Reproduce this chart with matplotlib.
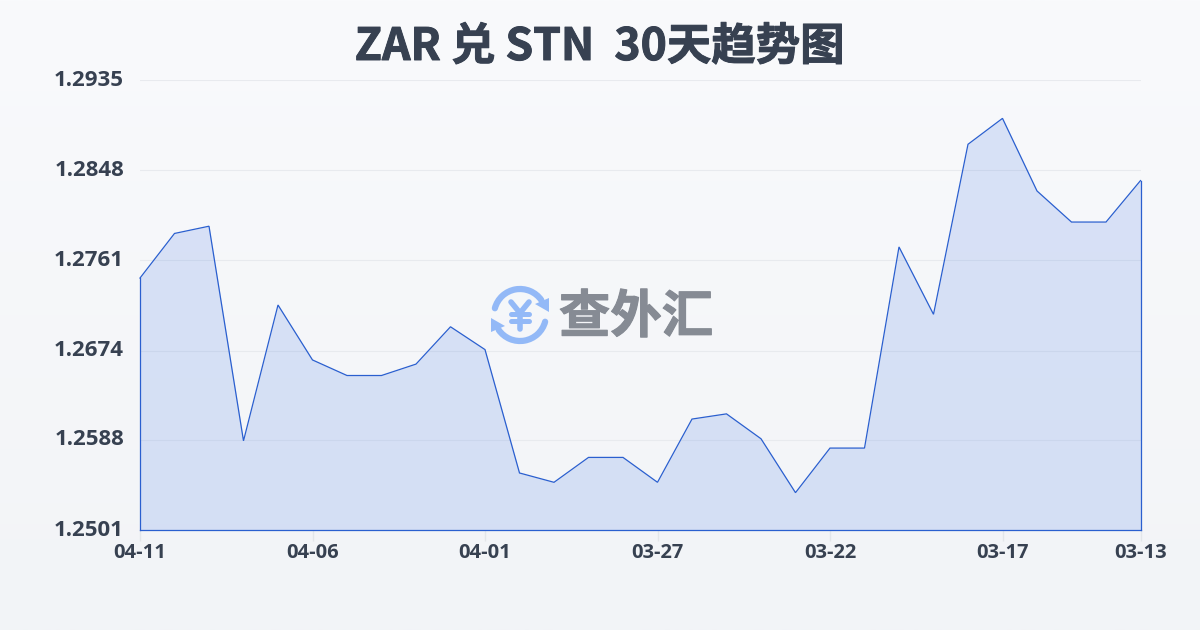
import matplotlib
matplotlib.use('Agg')
import numpy as np
import matplotlib.pyplot as plt
import matplotlib.patheffects as pe
from matplotlib.patches import Arc, Polygon

plt.rcParams['font.family'] = ['Noto Sans CJK SC', 'DejaVu Sans']

title = 'ZAR 兑 STN  30天趋势图'
dates = ['04-11','04-10','04-09','04-08','04-07','04-06','04-05','04-04','04-03','04-02',
         '04-01','03-31','03-30','03-29','03-28','03-27','03-26','03-25','03-24','03-23',
         '03-22','03-21','03-20','03-19','03-18','03-17','03-16','03-15','03-14','03-13']
rates = [1.2744,1.2787,1.2794,1.2587,1.2718,1.2665,1.2650,1.2650,1.2661,1.2697,
         1.2675,1.2556,1.2547,1.2571,1.2571,1.2547,1.2608,1.2613,1.2589,1.2537,
         1.2580,1.2580,1.2774,1.2709,1.2873,1.2898,1.2828,1.2798,1.2798,1.2838]
y_ticks = [1.2501,1.2588,1.2674,1.2761,1.2848,1.2935]
x_tick_step = 5

W, H = 1200, 630
fig = plt.figure(figsize=(W/100, H/100), dpi=100)

bg = fig.add_axes([0, 0, 1, 1], zorder=0)
bg.axis('off')
top = np.array([0xf9, 0xfa, 0xfc]) / 255
bot = np.array([0xf2, 0xf4, 0xf7]) / 255
grad = np.linspace(0, 1, 256)[:, None, None] * (bot - top) + top
bg.imshow(grad, aspect='auto', extent=[0, W, H, 0], interpolation='bilinear')
bg.set_xlim(0, W); bg.set_ylim(H, 0)

ax = fig.add_axes([140/W, 1-530/H, 1000.5/W, 450/H], zorder=1)
ax.patch.set_alpha(0)
x = np.arange(len(rates))
ax.set_xlim(0, len(rates)-1)
ax.set_ylim(y_ticks[0], y_ticks[-1])
ax.grid(axis='y', color='#e8eaee', lw=0.8)
ax.set_axisbelow(True)
ax.fill_between(x, rates, y_ticks[0], color='#3f74e6', alpha=0.17, lw=0, zorder=2)
line_c = '#2a5fcf'
ax.plot(x, rates, color=line_c, lw=0.9, zorder=3, solid_joinstyle='miter', clip_on=False)
ax.plot([0, 0], [y_ticks[0], rates[0]], color=line_c, lw=0.9, zorder=3, clip_on=False)
ax.plot([x[-1], x[-1]], [y_ticks[0], rates[-1]], color=line_c, lw=0.9, zorder=3, clip_on=False)
ax.plot([0, x[-1]], [y_ticks[0], y_ticks[0]], color=line_c, lw=0.9, zorder=3, clip_on=False)
for s in ax.spines.values():
    s.set_visible(False)

ax.set_yticks(y_ticks)
ax.set_yticklabels([f'{v:.4f}' for v in y_ticks], fontsize=16, fontweight='bold', color='#374151',
                   fontfamily=['Open Sans', 'DejaVu Sans'])
ax.tick_params(axis='y', length=0, pad=11.5)
ax.set_xticks(x[::x_tick_step].tolist() + [x[-1]])
ax.set_xticklabels(dates[::x_tick_step] + [dates[-1]], fontsize=14.5, fontweight='bold', color='#374151',
                   fontfamily=['Open Sans', 'DejaVu Sans'])
ax.tick_params(axis='x', length=8, width=1, color='#e3e6ea', pad=1)
for lab in ax.get_yticklabels():
    lab.set_verticalalignment('center')

fig.text(600/W, 1-47/H, title, ha='center', va='center', fontsize=32, fontweight='bold', color='#374151',
         path_effects=[pe.withStroke(linewidth=0.7, foreground='#374151')])

lg = fig.add_axes([0, 0, 1, 1], zorder=5)
lg.axis('off'); lg.patch.set_alpha(0)
lg.set_xlim(0, W); lg.set_ylim(H, 0)
blue = '#93b9f7'
cx, cy, r = 520, 315, 26
lg.add_patch(Arc((cx, cy), 2*r, 2*r, theta1=195, theta2=325, color=blue, lw=4.5, capstyle='round'))
lg.add_patch(Arc((cx, cy), 2*r, 2*r, theta1=15, theta2=145, color=blue, lw=4.5, capstyle='round'))
lg.add_patch(Polygon([[549,298],[549,312],[535,304]], closed=True, color=blue, lw=0))
lg.add_patch(Polygon([[491,318],[491,332],[505,326]], closed=True, color=blue, lw=0))
lg.plot([511,520,529],[302,313,302], color=blue, lw=4, solid_capstyle='round', solid_joinstyle='round')
lg.plot([520,520],[313,329], color=blue, lw=4, solid_capstyle='round')
lg.plot([511,529],[314,314], color=blue, lw=3.6, solid_capstyle='round')
lg.plot([511,529],[321,321], color=blue, lw=3.6, solid_capstyle='round')
lg.text(636, 317, '查外汇', ha='center', va='center', fontsize=37, fontweight='bold', color='#868b94',
        path_effects=[pe.withStroke(linewidth=0.8, foreground='#868b94')])

fig.savefig('out.png', dpi=100)
